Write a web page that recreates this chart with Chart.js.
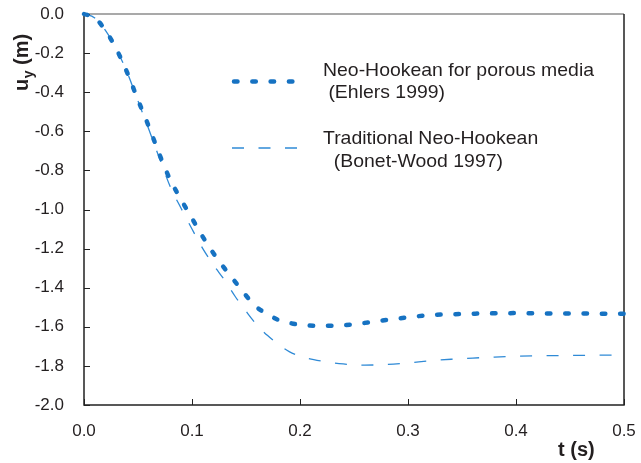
<!DOCTYPE html>
<html>
<head>
<meta charset="utf-8">
<script src="https://cdn.jsdelivr.net/npm/chart.js@4/dist/chart.umd.min.js"></script>
<style>
  html, body { margin: 0; padding: 0; background: #fff; }
  #wrap { width: 641px; height: 463px; position: relative; }
</style>
</head>
<body>
<div id="wrap"><canvas id="chart"></canvas></div>
<script>
// time (s)
const timeSteps = [0, 0.01, 0.02, 0.03, 0.04, 0.05, 0.06, 0.07, 0.08, 0.09,
    0.10, 0.11, 0.12, 0.13, 0.14, 0.15, 0.16, 0.17, 0.18, 0.19,
    0.20, 0.22, 0.24, 0.26, 0.28, 0.30, 0.32, 0.34, 0.36, 0.38,
    0.40, 0.42, 0.44, 0.46, 0.48, 0.50];

// vertical displacement u_y (m)
const porousNeoHookean = [0, -0.02, -0.085, -0.18, -0.30, -0.44, -0.575, -0.72, -0.85, -0.95,
    -1.045, -1.14, -1.225, -1.30, -1.37, -1.44, -1.50, -1.535, -1.565, -1.58,
    -1.59, -1.595, -1.592, -1.58, -1.565, -1.552, -1.54, -1.536, -1.533, -1.531,
    -1.53, -1.531, -1.532, -1.532, -1.533, -1.533];

const traditionalNeoHookean = [0, -0.02, -0.085, -0.18, -0.30, -0.445, -0.59, -0.74, -0.885, -0.995,
    -1.10, -1.20, -1.285, -1.36, -1.445, -1.52, -1.59, -1.645, -1.69, -1.727,
    -1.75, -1.775, -1.79, -1.796, -1.793, -1.785, -1.774, -1.766, -1.76, -1.755,
    -1.751, -1.748, -1.747, -1.746, -1.745, -1.745];

const seriesNames = [
    ['Neo-Hookean for porous media', ' (Ehlers 1999)'],
    ['Traditional Neo-Hookean', '  (Bonet-Wood 1997)']
];

const xTicks = [0, 0.1, 0.2, 0.3, 0.4, 0.5];
const yTicks = [0, -0.2, -0.4, -0.6, -0.8, -1.0, -1.2, -1.4, -1.6, -1.8, -2.0];

const thickBlue = '#1672c2';
const thinBlue = '#2f8ad6';
const textColor = '#231f20';
const fontFamily = '"Liberation Sans", Arial, Helvetica, sans-serif';

function toPoints(values) {
    return timeSteps.map((t, i) => ({ x: t, y: values[i] }));
}

const lineStyles = [
    { color: thickBlue, width: 4.5, dash: [3.5, 14.8], cap: 'round' },
    { color: thinBlue, width: 1.3, dash: [12, 14.5], cap: 'butt' }
];

// frame, inward tick marks, axis titles and the legend block
const decorations = {
    id: 'decorations',
    beforeDatasetsDraw(chart) {
        const { ctx, chartArea: a, scales } = chart;
        ctx.save();
        ctx.lineWidth = 1.5;
        ctx.strokeStyle = '#8c8c8c';
        ctx.beginPath();
        ctx.moveTo(a.left, a.top);
        ctx.lineTo(a.right, a.top);
        ctx.stroke();
        ctx.strokeStyle = '#222';
        ctx.beginPath();
        ctx.moveTo(a.left, a.top);
        ctx.lineTo(a.left, a.bottom);
        ctx.lineTo(a.right, a.bottom);
        ctx.lineTo(a.right, a.top);
        ctx.stroke();

        ctx.lineWidth = 1;
        ctx.beginPath();
        for (const v of xTicks) {
            const px = Math.round(scales.x.getPixelForValue(v)) + 0.5;
            ctx.moveTo(px, a.bottom);
            ctx.lineTo(px, a.bottom - 6);
        }
        for (const v of yTicks) {
            const py = Math.round(scales.y.getPixelForValue(v)) + 0.5;
            ctx.moveTo(a.left, py);
            ctx.lineTo(a.left + 6, py);
        }
        ctx.stroke();
        ctx.restore();
    },
    afterDraw(chart) {
        const { ctx } = chart;
        ctx.save();
        ctx.fillStyle = textColor;

        // y title: u_y (m), rotated
        ctx.translate(28, 91);
        ctx.rotate(-Math.PI / 2);
        ctx.textBaseline = 'alphabetic';
        ctx.font = 'bold 20px ' + fontFamily;
        ctx.fillText('u', 0, 0);
        let w = ctx.measureText('u').width;
        ctx.font = 'bold 14px ' + fontFamily;
        ctx.fillText('y', w + 0.5, 5);
        w += ctx.measureText('y').width + 0.5;
        ctx.font = 'bold 20px ' + fontFamily;
        ctx.fillText(' (m)', w, 0);
        ctx.setTransform(1, 0, 0, 1, 0, 0);

        // x title
        ctx.font = 'bold 20px ' + fontFamily;
        ctx.fillText('t (s)', 558, 456);

        // legend
        const rows = [
            { y: 81.5, text: [[323, 76], [323, 98]] },
            { y: 148, text: [[323, 144], [323, 167]] }
        ];
        rows.forEach((row, i) => {
            const s = lineStyles[i];
            ctx.save();
            ctx.strokeStyle = s.color;
            ctx.lineWidth = s.width;
            ctx.lineCap = s.cap;
            ctx.setLineDash(s.dash);
            ctx.beginPath();
            ctx.moveTo(i === 0 ? 234 : 232, row.y);
            ctx.lineTo(297, row.y);
            ctx.stroke();
            ctx.restore();
            ctx.font = '18.5px ' + fontFamily;
            seriesNames[i].forEach((line, j) => {
                ctx.save();
                ctx.translate(row.text[j][0], row.text[j][1]);
                ctx.scale(1.05, 1);
                ctx.fillText(line, 0, 0);
                ctx.restore();
            });
        });
        ctx.restore();
    }
};

const chartConfig = {
    type: 'scatter',
    data: {
        datasets: [
            {
                label: seriesNames[0].join(''),
                data: toPoints(porousNeoHookean),
                showLine: true,
                borderColor: lineStyles[0].color,
                borderWidth: lineStyles[0].width,
                borderDash: lineStyles[0].dash,
                borderCapStyle: lineStyles[0].cap,
                cubicInterpolationMode: 'monotone',
                pointRadius: 0,
                clip: false
            },
            {
                label: seriesNames[1].join(''),
                data: toPoints(traditionalNeoHookean),
                showLine: true,
                borderColor: lineStyles[1].color,
                borderWidth: lineStyles[1].width,
                borderDash: lineStyles[1].dash,
                borderCapStyle: lineStyles[1].cap,
                cubicInterpolationMode: 'monotone',
                pointRadius: 0,
                clip: false
            }
        ]
    },
    options: {
        responsive: false,
        animation: false,
        layout: { padding: { top: 14, right: 17, left: 0, bottom: 0 } },
        plugins: {
            legend: { display: false },
            tooltip: { enabled: false }
        },
        scales: {
            x: {
                type: 'linear',
                min: 0,
                max: 0.5,
                afterFit: (scale) => {
                    scale.height = 58;
                    scale.paddingLeft = 0;
                    scale.paddingRight = 0;
                },
                afterBuildTicks: (scale) => { scale.ticks = xTicks.map(v => ({ value: v })); },
                grid: { display: false },
                border: { display: false },
                ticks: {
                    padding: 8,
                    color: textColor,
                    font: { family: fontFamily, size: 17 },
                    maxRotation: 0,
                    callback: (v) => v.toFixed(1)
                }
            },
            y: {
                type: 'linear',
                min: -2,
                max: 0,
                afterFit: (scale) => {
                    scale.width = 84;
                    scale.paddingTop = 0;
                    scale.paddingBottom = 0;
                },
                afterBuildTicks: (scale) => { scale.ticks = yTicks.map(v => ({ value: v })); },
                grid: { display: false },
                border: { display: false },
                ticks: {
                    padding: 12,
                    color: textColor,
                    font: { family: fontFamily, size: 17 },
                    callback: (v) => v.toFixed(1)
                }
            }
        }
    },
    plugins: [decorations]
};

const canvas = document.getElementById('chart');
canvas.width = 641;
canvas.height = 463;
window.mainChart = new Chart(canvas, chartConfig);
</script>
</body>
</html>
